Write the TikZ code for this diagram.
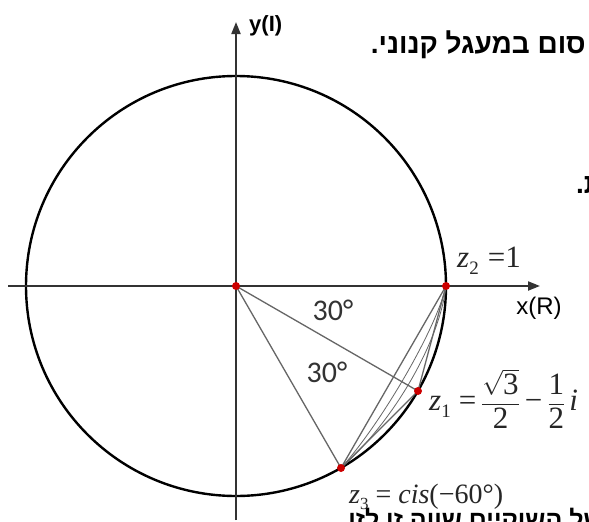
\documentclass[tikz,border=0pt]{standalone}
\usepackage{amsmath}
\usepackage{fontspec}
\usetikzlibrary{arrows.meta}
\setmainfont{Liberation Serif}
\newfontfamily\heb[Script=Hebrew]{Liberation Sans}
\newfontfamily\lsans{Liberation Sans}
\newfontfamily\carfont{Carlito}
\TeXXeTstate=1
\begin{document}
\begin{tikzpicture}[x=1pt,y=-1pt,
  axis/.style={draw=black!80,line width=2pt,-{Triangle[length=12pt,width=9pt]}},
  chord/.style={draw=black!60,line width=1.3pt},
  dot/.style={circle,fill=red!80!black,inner sep=0pt,minimum size=8pt},
  heblab/.style={font=\heb\bfseries\fontsize{28}{32}\selectfont,inner sep=0pt},
  anglab/.style={font=\carfont\fontsize{30}{34}\selectfont,text=black!80,inner sep=0pt},
  zlab/.style={font=\fontsize{28}{32}\selectfont,text=black!85,inner sep=0pt},
  zbig/.style={font=\fontsize{31}{35}\selectfont,text=black!85,inner sep=0pt},
  axlab/.style={font=\lsans\fontsize{24}{28}\selectfont,inner sep=0pt}]
\useasboundingbox (0,0) rectangle (589,522);
\fill[white] (0,0) rectangle (589,522);
% Hebrew background text
\node[heblab,anchor=base east] (t1) at (586,53) {\beginR סום במעגל קנוני.\endR};
\node[heblab,anchor=base west] (t2) at (576,193) {\beginR ת.\endR};
\node[heblab,anchor=base east,font=\heb\bfseries\fontsize{25}{30}\selectfont] (t3) at (604,528) {\beginR של השוקיים שווה זו לזו\endR};
% coordinates
\coordinate (O) at (236,286);
\coordinate (z2) at (446,286);
\coordinate (z1) at (418,391);
\coordinate (z3) at (341,468);
\coordinate (xs) at (8,286);
\coordinate (xe) at (540,286);
\coordinate (ys) at (236,520);
\coordinate (ye) at (236,22);
% circle
\draw[line width=2.4pt] (O) circle[radius=210];
% axes
\draw[axis] (xs) -- (xe);
\draw[axis] (ys) -- (ye);
% chords and radii
\draw[chord] (O) -- (z1);
\draw[chord] (O) -- (z3);
\draw[chord] (z2) -- (z1);
\draw[chord] (z2) -- (z3);
\draw[chord] (z1) -- (z3);
\draw[chord,line width=0.8pt] (z2) .. controls (440,340) and (395,420) .. (z3);
\draw[chord,line width=0.8pt] (z2) .. controls (436,330) and (380,425) .. (z3);
% dots
\node[dot] (dO) at (O) {};
\node[dot] (d2) at (z2) {};
\node[dot] (d1) at (z1) {};
\node[dot] (d3) at (z3) {};
% labels
\node[axlab,anchor=west,font=\lsans\bfseries\fontsize{22}{26}\selectfont] (ly) at (249,26) {y(I)};
\node[axlab] (lx) at (539,308) {x(R)};
\node[anglab] (a1) at (333,310) {30°};
\node[anglab] (a2) at (327,372) {30°};
\node[zbig,anchor=base west] (l2) at (457,267) {\textit{z}\raisebox{-7pt}{\fontsize{19}{20}\selectfont 2}\hspace{9pt}=1};
\node[zbig,anchor=west] (l1) at (429,399) {\textit{z}\raisebox{-7pt}{\fontsize{19}{20}\selectfont 1}\hspace{8pt}=\hspace{5pt}$\dfrac{\sqrt{\text{3}}}{\text{2}}$\hspace{5pt}−\hspace{5pt}$\dfrac{\text{1}}{\text{2}}$\hspace{4pt}\textit{i}};
\node[zlab,anchor=base west] (l3) at (349,503) {\textit{z}\raisebox{-6pt}{\fontsize{17}{18}\selectfont 3} = \textit{cis}(−60°)};
\end{tikzpicture}
\end{document}
